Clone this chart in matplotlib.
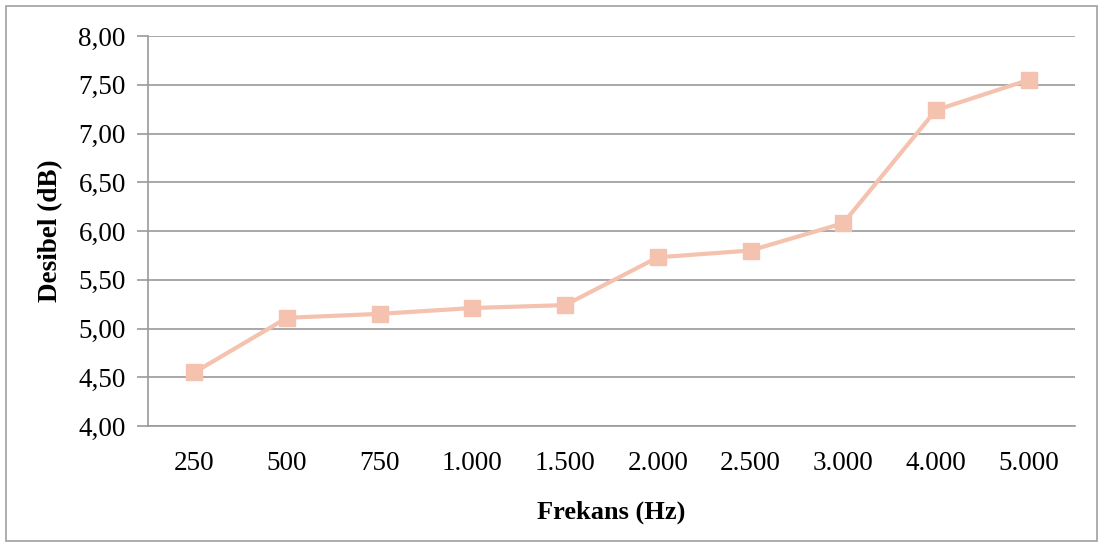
import matplotlib
matplotlib.use("Agg")
import matplotlib.pyplot as plt
from matplotlib.patches import Rectangle

categories = ["250", "500", "750", "1.000", "1.500", "2.000", "2.500", "3.000", "4.000", "5.000"]
values = [4.55, 5.11, 5.15, 5.21, 5.24, 5.73, 5.80, 6.08, 7.24, 7.55]
yticks = [4.0, 4.5, 5.0, 5.5, 6.0, 6.5, 7.0, 7.5, 8.0]
ytick_labels = ["4,00", "4,50", "5,00", "5,50", "6,00", "6,50", "7,00", "7,50", "8,00"]

plt.rcParams['font.family'] = ['Liberation Serif', 'DejaVu Serif']

W, H = 1102, 545
fig = plt.figure(figsize=(W/100, H/100), dpi=100)
ax = fig.add_axes([148/W, 1-426/H, (1075-148)/W, (426-36)/H])

x = list(range(len(categories)))
ax.plot(x, values, color='#F4C2AE', lw=3, marker='s', markersize=11,
        markerfacecolor='#F4C2AE', markeredgecolor='#F4C2AE', zorder=3, clip_on=False)

ax.set_xlim(-0.5, len(categories)-0.5)
ax.set_ylim(4.0, 8.0)
ax.set_yticks(yticks)
ax.set_yticklabels(ytick_labels, fontsize=19.5)
ax.set_xticks(x)
ax.set_xticklabels(categories, fontsize=19.5)
ax.grid(axis='y', color='#9a9a9a', lw=1.2)
ax.set_axisbelow(True)
for s in ['top', 'right']:
    ax.spines[s].set_visible(False)
ax.spines['left'].set_color('#9a9a9a')
ax.spines['bottom'].set_color('#9a9a9a')
ax.spines['left'].set_linewidth(1.2)
ax.spines['bottom'].set_linewidth(1.2)
ax.tick_params(axis='y', length=8, color='#9a9a9a', width=1.2, pad=8)
ax.tick_params(axis='x', length=0, pad=18)

ax.set_xlabel("Frekans (Hz)", fontsize=19, fontweight='bold', labelpad=18)
ax.set_ylabel("Desibel (dB)", fontsize=19.5, fontweight='bold', labelpad=11)

fig.patches.append(Rectangle((6/W, 4/H), (1097-6)/W, (541-6)/H, transform=fig.transFigure,
                             fill=False, edgecolor='#a0a0a0', lw=1.2))

fig.savefig("out.png", dpi=100)
